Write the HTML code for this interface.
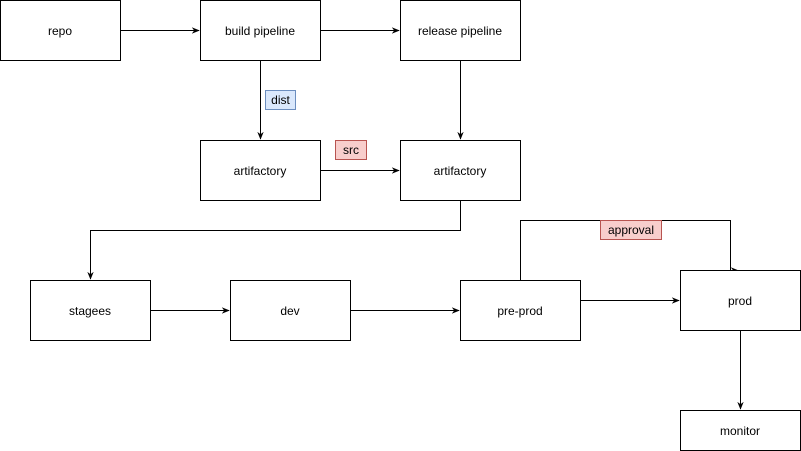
<!DOCTYPE html>
<html><head><meta charset="utf-8"><style>
html,body{margin:0;padding:0;background:#fff;}
svg{display:block;}
text{font-family:"Liberation Sans",Arial,sans-serif;font-size:12px;fill:#000;}
</style></head><body>
<svg width="801" height="451" viewBox="0 0 801 451" xmlns="http://www.w3.org/2000/svg">
<defs>
<marker id="a" viewBox="0 0 10 10" refX="9" refY="5" markerWidth="8" markerHeight="8" orient="auto" markerUnits="userSpaceOnUse">
<path d="M0,1 L10,5 L0,9 L3,5 z" fill="#000"/>
</marker>
</defs>
<g fill="none" stroke="#000" stroke-width="1">
<path d="M120.5,30.5 H199" marker-end="url(#a)"/>
<path d="M320.5,30.5 H399" marker-end="url(#a)"/>
<path d="M260.5,60.5 V139" marker-end="url(#a)"/>
<path d="M460.5,60.5 V139" marker-end="url(#a)"/>
<path d="M320.5,170.5 H399" marker-end="url(#a)"/>
<path d="M460.5,200.5 V230.5 H90.5 V279" marker-end="url(#a)"/>
<path d="M150.5,310.5 H229" marker-end="url(#a)"/>
<path d="M350.5,310.5 H459" marker-end="url(#a)"/>
<path d="M580.5,300.5 H679" marker-end="url(#a)"/>
<path d="M520.5,280.5 V220.5 H730.5 V270.5 L738,270.5" marker-end="url(#a)"/>
<path d="M740.5,330.5 V409" marker-end="url(#a)"/>
</g>
<g fill="#fff" stroke="#000" stroke-width="1">
<rect x="0.5" y="0.5" width="120" height="60"/>
<rect x="200.5" y="0.5" width="120" height="60"/>
<rect x="400.5" y="0.5" width="120" height="60"/>
<rect x="200.5" y="140.5" width="120" height="60"/>
<rect x="400.5" y="140.5" width="120" height="60"/>
<rect x="30.5" y="280.5" width="120" height="60"/>
<rect x="230.5" y="280.5" width="120" height="60"/>
<rect x="460.5" y="280.5" width="120" height="60"/>
<rect x="680.5" y="270.5" width="120" height="60"/>
<rect x="680.5" y="410.5" width="120" height="40"/>
</g>
<rect x="265.5" y="90.5" width="30" height="19" fill="#dae8fc" stroke="#6c8ebf"/>
<rect x="335.5" y="140.5" width="31" height="19" fill="#f8cecc" stroke="#b85450"/>
<rect x="600.5" y="220.5" width="61" height="19" fill="#f8cecc" stroke="#b85450"/>
<g text-anchor="middle">
<text x="60" y="35">repo</text>
<text x="260" y="35">build pipeline</text>
<text x="460" y="35">release pipeline</text>
<text x="260" y="175">artifactory</text>
<text x="460" y="175">artifactory</text>
<text x="90" y="315">stagees</text>
<text x="290" y="315">dev</text>
<text x="520" y="315">pre-prod</text>
<text x="740" y="305">prod</text>
<text x="740" y="435">monitor</text>
<text x="280.5" y="104">dist</text>
<text x="351" y="154">src</text>
<text x="631" y="234">approval</text>
</g>
</svg>
</body></html>
